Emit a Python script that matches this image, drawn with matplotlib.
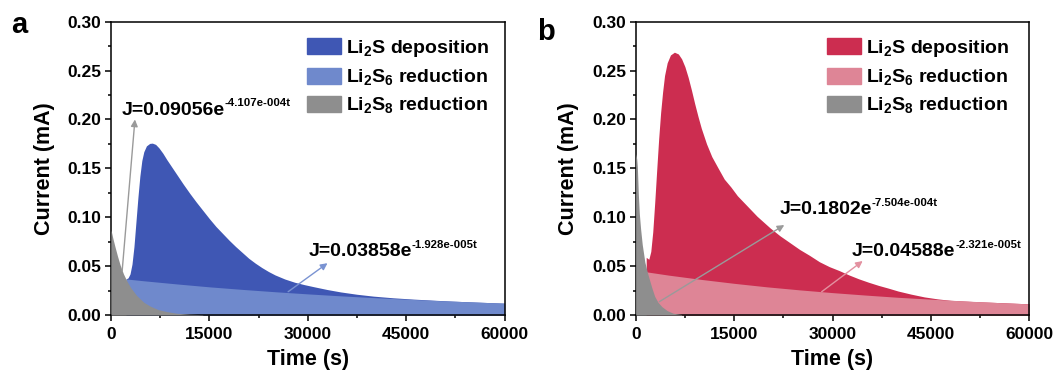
import numpy as np
import matplotlib
matplotlib.use("Agg")
import matplotlib.pyplot as plt
from matplotlib.ticker import MultipleLocator, FormatStrFormatter
from matplotlib.patches import Patch

plt.rcParams['font.family'] = ['Liberation Sans', 'DejaVu Sans']
plt.rcParams['font.weight'] = 'bold'
plt.rcParams['mathtext.fontset'] = 'custom'
plt.rcParams['mathtext.rm'] = 'Liberation Sans:bold'
plt.rcParams['mathtext.bf'] = 'Liberation Sans:bold'
plt.rcParams['mathtext.it'] = 'Liberation Sans:bold'

# ---------------- Panel a data ----------------
a_t_total = [2300, 2600, 2900, 3200, 3500, 3800, 4100, 4400, 4700, 5000, 5400, 5900, 6300, 6800,
             7300, 7900, 8500, 9200, 10000, 11000, 12000, 13000, 14000, 15000, 16000, 17000,
             18000, 19000, 20000, 21000, 22000, 23000, 24000, 25000, 26500, 28000, 29500,
             31000, 33000, 35000, 37500, 40000, 43000, 46000, 49000, 52000, 56000, 60000]
a_total = [0.0369, 0.038, 0.042, 0.052, 0.070, 0.095, 0.120, 0.142, 0.158, 0.167, 0.173, 0.1755, 0.1758, 0.1745,
           0.171, 0.1655, 0.159, 0.152, 0.144, 0.134, 0.1245, 0.1155, 0.107, 0.0985, 0.0905, 0.0835,
           0.0765, 0.070, 0.064, 0.058, 0.053, 0.0485, 0.0445, 0.041, 0.0368, 0.0335, 0.031,
           0.0288, 0.026, 0.0236, 0.0212, 0.0193, 0.0176, 0.0163, 0.0152, 0.0142, 0.0131, 0.0121]
a_t_s6 = [2300, 5000, 10000, 15000, 20000, 25000, 30000, 35000, 40000, 45000, 50000, 55000, 60000]
a_li2s6 = [0.0369, 0.0350, 0.0318, 0.0288, 0.0262, 0.0238, 0.0216, 0.0196, 0.0178, 0.0162, 0.0147, 0.0134, 0.0121]
a_t_s8 = [0, 300, 600, 1000, 1400, 1900, 2400, 3000, 3900, 5000, 6000, 7200, 8500, 10000, 12000, 14000]
a_li2s8 = [0.087, 0.078, 0.070, 0.060, 0.051, 0.042, 0.035, 0.028, 0.020, 0.013, 0.009, 0.0055, 0.0035,
           0.0018, 0.0008, 0.0003]

# ---------------- Panel b data ----------------
b_t_total = [1600, 2000, 2300, 2600, 2900, 3200, 3500, 3800, 4100, 4400, 4800, 5300, 5900, 6500, 7000,
             7500, 8000, 8500, 9000, 9500, 10000, 10800, 11600, 12500, 13500, 14500, 15500, 16500,
             17500, 18500, 19500, 20500, 22000, 23500, 25000, 26500, 28000, 29500, 31000, 32500,
             34000, 35500, 37000, 38500, 40000, 42000, 44000, 46000, 48000, 50000, 52000, 55000, 60000]
b_total = [0.059, 0.057, 0.065, 0.085, 0.115, 0.148, 0.180, 0.207, 0.228, 0.245, 0.258, 0.266, 0.2688, 0.267, 0.262,
           0.254, 0.243, 0.230, 0.216, 0.203, 0.191, 0.175, 0.162, 0.151, 0.139, 0.131, 0.122, 0.115,
           0.108, 0.101, 0.095, 0.089, 0.081, 0.074, 0.067, 0.061, 0.0545, 0.0495, 0.0455, 0.041,
           0.037, 0.0335, 0.0303, 0.0275, 0.0245, 0.0213, 0.0185, 0.0165, 0.0150, 0.0143, 0.0136, 0.0128, 0.0114]
b_t_s6 = [1600, 5000, 10000, 15000, 20000, 25000, 30000, 35000, 40000, 45000, 50000, 55000, 60000]
b_li2s6 = [0.0442, 0.0408, 0.0364, 0.0324, 0.0288, 0.0257, 0.0229, 0.0204, 0.0181, 0.0162, 0.0144, 0.0128, 0.0114]
b_t_s8 = [0, 150, 250, 400, 550, 750, 1000, 1400, 1800, 2100, 2500, 2900, 3400, 4000, 4800, 5700, 7000]
b_li2s8 = [0.165, 0.160, 0.152, 0.124, 0.104, 0.088, 0.072, 0.054, 0.043, 0.036, 0.027, 0.019, 0.013,
           0.0085, 0.0045, 0.0018, 0.0005]

legend_labels = [r'Li$_\mathrm{2}$S deposition', r'Li$_\mathrm{2}$S$_\mathrm{6}$ reduction',
                 r'Li$_\mathrm{2}$S$_\mathrm{8}$ reduction']
fit_a = [('J=0.09056e', '-4.107e-004t'), ('J=0.03858e', '-1.928e-005t')]
fit_b = [('J=0.1802e', '-7.504e-004t'), ('J=0.04588e', '-2.321e-005t')]

GRAY = '#8e8e8e'
A_DARK, A_LIGHT = '#3f57b4', '#6f89cc'
B_DARK, B_LIGHT = '#cc2d50', '#de8596'

W, H = 1060, 374
fig = plt.figure(figsize=(W / 100, H / 100), dpi=100)
axl, axw = 111 / W, 393.6 / W
axb, axh = (H - 315) / H, 293.3 / H
ax_a = fig.add_axes([axl, axb, axw, axh])
ax_b = fig.add_axes([635.7 / W, axb, axw, axh])


def style(ax):
    ax.set_xlim(0, 60000)
    ax.set_ylim(0, 0.30)
    ax.xaxis.set_major_locator(MultipleLocator(15000))
    ax.xaxis.set_minor_locator(MultipleLocator(7500))
    ax.yaxis.set_major_locator(MultipleLocator(0.05))
    ax.yaxis.set_minor_locator(MultipleLocator(0.025))
    ax.yaxis.set_major_formatter(FormatStrFormatter('%.2f'))
    ax.tick_params(which='both', direction='out', top=False, right=False, width=1.1)
    ax.tick_params(which='major', length=4, labelsize=12.5, pad=3)
    ax.tick_params(axis='x', which='major', pad=4.5)
    ax.tick_params(which='minor', length=2.3)
    for lab in ax.get_xticklabels() + ax.get_yticklabels():
        lab.set_fontweight('bold')
    for s in ax.spines.values():
        s.set_linewidth(1.1)
    ax.set_xlabel('Time (s)', fontsize=15.5, fontweight='bold', labelpad=5)
    ax.set_ylabel('Current (mA)', fontsize=15.5, fontweight='bold', labelpad=9)


def panel(ax, t_tot, total, t_s6, s6, t_s8, s8, dark, light, fits, arrows, fitpos, legx):
    ax.fill_between(t_tot, 0, total, color=dark, lw=0, zorder=1)
    ax.fill_between(t_s6, 0, s6, color=light, lw=0, zorder=2)
    ax.fill_between(t_s8, 0, s8, color=GRAY, lw=0, zorder=3)
    style(ax)
    handles = [Patch(color=dark), Patch(color=light), Patch(color=GRAY)]
    ax.legend(handles, legend_labels, loc='upper left', bbox_to_anchor=(legx, 0.944),
              frameon=False, fontsize=14, handlelength=1.75, handleheight=0.9,
              handletextpad=0.3, labelspacing=0.42, borderpad=0, borderaxespad=0)
    for (main, sup), (tail, head, col), pos in zip(fits, arrows, fitpos):
        ax.annotate('', xy=head, xytext=tail,
                    arrowprops=dict(arrowstyle='-|>', color=col, lw=1.0,
                                    mutation_scale=10, shrinkA=0, shrinkB=0), zorder=5)
        tx = ax.text(pos[0], pos[1], main, fontsize=14, fontweight='bold',
                     ha='left', va='center', zorder=6)
        ax.annotate(sup, xy=(1.0, 0.62), xycoords=tx, fontsize=8.2, fontweight='bold',
                    ha='left', va='bottom', zorder=6)


panel(ax_a, a_t_total, a_total, a_t_s6, a_li2s6, a_t_s8, a_li2s8, A_DARK, A_LIGHT, fit_a,
      [((1700, 0.045), (3650, 0.200), '#9a9a9a'),
       ((27000, 0.0238), (33000, 0.053), '#7a93d2')],
      [(1630, 0.2095), (30070, 0.0648)], 0.497)
panel(ax_b, b_t_total, b_total, b_t_s6, b_li2s6, b_t_s8, b_li2s8, B_DARK, B_LIGHT, fit_b,
      [((3600, 0.0136), (22650, 0.092), '#9a9a9a'),
       ((28350, 0.0238), (34600, 0.0552), '#e391a0')],
      [(21880, 0.1074), (32920, 0.0648)], 0.485)

fig.text(11 / W, 1 - 33 / H, 'a', fontsize=21, fontweight='bold', ha='left', va='baseline')
fig.text(537 / W, 1 - 40 / H, 'b', fontsize=21, fontweight='bold', ha='left', va='baseline')

fig.savefig('out.png', dpi=100)
